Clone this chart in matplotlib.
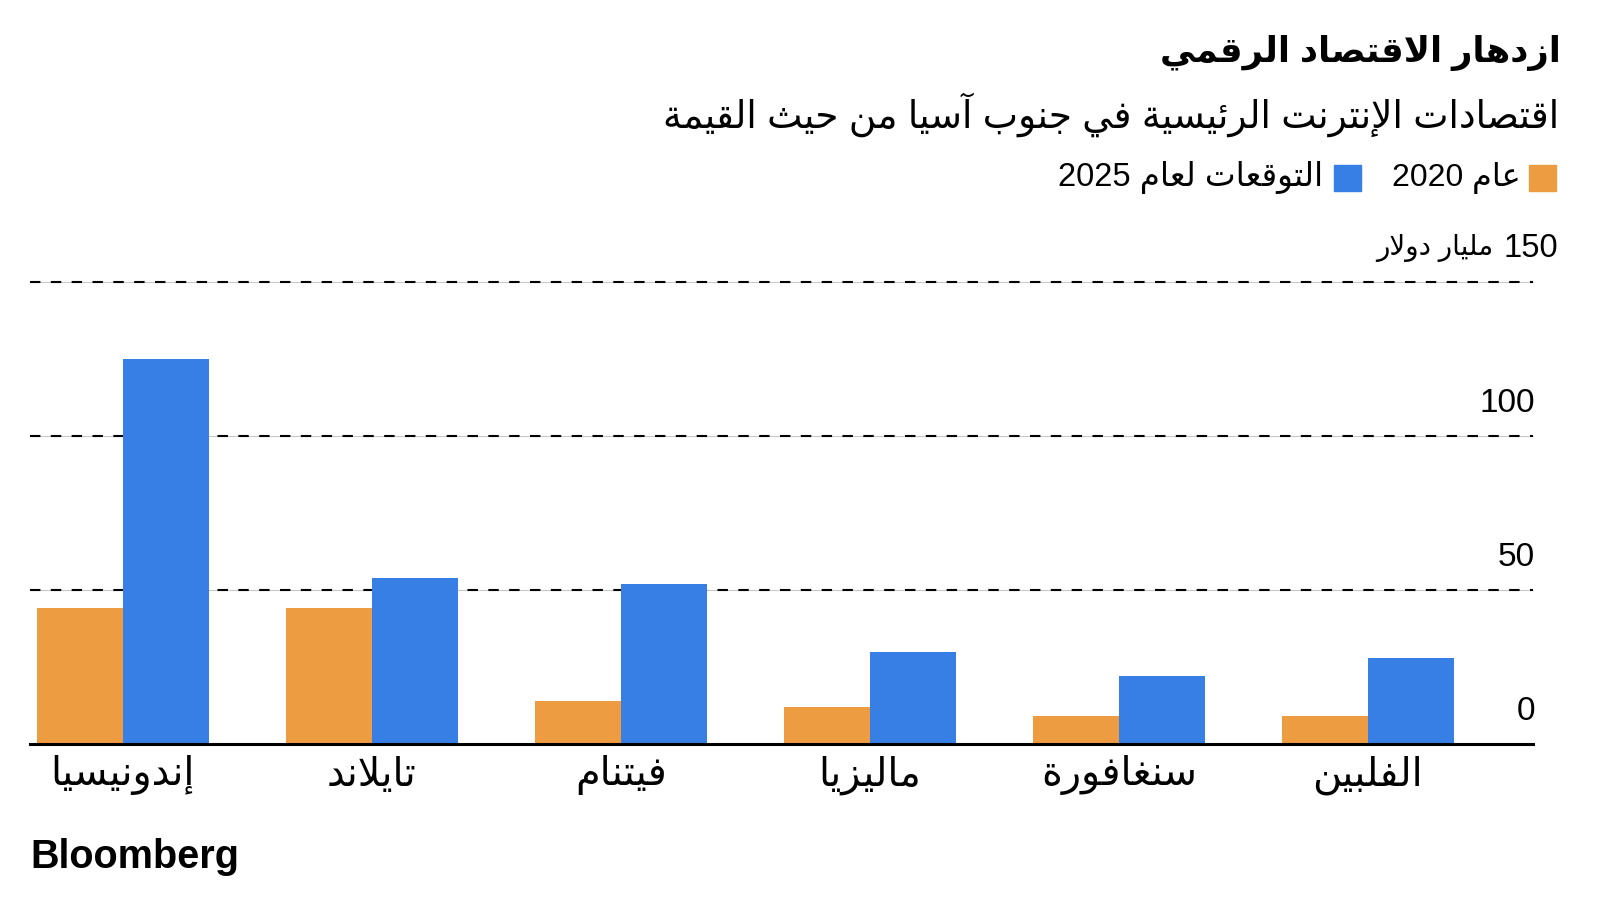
import re
import numpy as np
import matplotlib
matplotlib.use('Agg')
import matplotlib.pyplot as plt
import matplotlib.transforms as mtransforms
from matplotlib.patches import Rectangle

# data (billion dollars)
countries = ['إندونيسيا', 'تايلاند', 'فيتنام', 'ماليزيا', 'سنغافورة', 'الفلبين']
value_2020 = [44, 44, 14, 12, 9, 9]
value_2025 = [125, 54, 52, 30, 22, 28]
y_ticks = [0, 50, 100, 150]

title = 'ازدهار الاقتصاد الرقمي'
subtitle = 'اقتصادات الإنترنت الرئيسية في جنوب آسيا من حيث القيمة'
legend_2020 = 'عام 2020'
legend_2025 = 'التوقعات لعام 2025'
unit_label = 'مليار دولار'

orange = '#ED9C41'
blue = '#377FE4'

# --- minimal arabic shaping (matplotlib has no bidi / joining support) ---
RIGHT_JOIN = {'\u0622': 0xFE81, '\u0623': 0xFE83, '\u0624': 0xFE85, '\u0625': 0xFE87,
              '\u0627': 0xFE8D, '\u0629': 0xFE93, '\u062F': 0xFEA9, '\u0630': 0xFEAB,
              '\u0631': 0xFEAD, '\u0632': 0xFEAF, '\u0648': 0xFEED, '\u0649': 0xFEEF}
DUAL_JOIN = {'\u0626': 0xFE89, '\u0628': 0xFE8F, '\u062A': 0xFE95, '\u062B': 0xFE99,
             '\u062C': 0xFE9D, '\u062D': 0xFEA1, '\u062E': 0xFEA5, '\u0633': 0xFEB1,
             '\u0634': 0xFEB5, '\u0635': 0xFEB9, '\u0636': 0xFEBD, '\u0637': 0xFEC1,
             '\u0638': 0xFEC5, '\u0639': 0xFEC9, '\u063A': 0xFECD, '\u0641': 0xFED1,
             '\u0642': 0xFED5, '\u0643': 0xFED9, '\u0644': 0xFEDD, '\u0645': 0xFEE1,
             '\u0646': 0xFEE5, '\u0647': 0xFEE9, '\u064A': 0xFEF1}
LAM_ALEF = {'\u0622': 0xFEF5, '\u0623': 0xFEF7, '\u0625': 0xFEF9, '\u0627': 0xFEFB}


def shape(text):
    units = []
    i = 0
    while i < len(text):
        if text[i] == '\u0644' and i + 1 < len(text) and text[i + 1] in LAM_ALEF:
            units.append(('LA', text[i + 1]))
            i += 2
        else:
            units.append(text[i])
            i += 1
    out = []
    for k, u in enumerate(units):
        prev = units[k - 1] if k > 0 else None
        nxt = units[k + 1] if k + 1 < len(units) else None
        joins_prev = isinstance(prev, str) and prev in DUAL_JOIN
        if isinstance(u, tuple):
            out.append(chr(LAM_ALEF[u[1]] + (1 if joins_prev else 0)))
        elif u in DUAL_JOIN:
            joins_next = nxt is not None and (isinstance(nxt, tuple) or nxt in DUAL_JOIN
                                              or nxt in RIGHT_JOIN)
            if joins_prev and joins_next:
                off = 3
            elif joins_prev:
                off = 1
            elif joins_next:
                off = 2
            else:
                off = 0
            out.append(chr(DUAL_JOIN[u] + off))
        elif u in RIGHT_JOIN:
            out.append(chr(RIGHT_JOIN[u] + (1 if joins_prev else 0)))
        else:
            out.append(u)
    return ''.join(out)


def rtl(text):
    s = shape(text)[::-1]
    return re.sub(r'[0-9A-Za-z.,]+', lambda m: m.group(0)[::-1], s)


FONT = ['Liberation Sans', 'DejaVu Sans']
W, H = 1600, 900


def fx(x):
    return x / W


def fy(y):
    return 1 - y / H


fig = plt.figure(figsize=(16, 9), dpi=100)
fig.patch.set_facecolor('white')

# axes placed in pixels: left 30, right 1533, top (150) 282, bottom (0) 744
ax = fig.add_axes([fx(30), fy(744), (1533 - 30) / W, (744 - 282) / H])
for s in ax.spines.values():
    s.set_visible(False)

x = np.arange(len(countries))
w = 0.345
ax.bar(x - w / 2, value_2020, w, color=orange, linewidth=0, zorder=3)
ax.bar(x + w / 2, value_2025, w, color=blue, linewidth=0, zorder=3)

ax.set_xlim(-0.373, 5.663)
ax.set_ylim(0, 150)
ax.set_xticks([])
ax.set_yticks([])

for v in y_ticks[1:]:
    ax.axhline(v, color='#c8c8c8', lw=0.8, zorder=1, clip_on=False)
    ax.axhline(v, color='black', lw=1.5, dashes=(5, 5), zorder=2, clip_on=False)
ax.axhline(0, color='black', lw=2.2, zorder=4, clip_on=False)

trans = mtransforms.blended_transform_factory(ax.transAxes, ax.transData)
for v in y_ticks[:-1]:
    ax.text(1.0013, v + 10.5, str(v), ha='right', va='center', fontsize=24,
            family=FONT, transform=trans)
# top tick carries the unit, a little further right
ax.text(1.0166, y_ticks[-1] + 11, str(y_ticks[-1]), ha='right', va='center',
        fontsize=23.5, family=FONT, transform=trans)
ax.text(0.974, y_ticks[-1] + 11, rtl(unit_label), ha='right', va='center',
        fontsize=20, family=FONT, transform=trans)

for xi, name in zip(x, countries):
    ax.text(xi, -0.068, rtl(name), ha='center', va='center', fontsize=28.5,
            family=FONT, transform=ax.get_xaxis_transform())

# title block
fig.text(fx(1561), fy(53), rtl(title), ha='right', va='center', fontsize=25.5,
         fontweight='bold', family=FONT)
fig.text(fx(1559), fy(115), rtl(subtitle), ha='right', va='center', fontsize=27,
         family=FONT)

# legend (right to left)
fig.patches.append(Rectangle((fx(1529), fy(191)), 27 / W, 26 / H, color=orange,
                             transform=fig.transFigure, figure=fig))
fig.text(fx(1521), fy(178), rtl(legend_2020), ha='right', va='center', fontsize=23,
         family=FONT)
fig.patches.append(Rectangle((fx(1334), fy(191)), 27 / W, 26 / H, color=blue,
                             transform=fig.transFigure, figure=fig))
fig.text(fx(1323), fy(178), rtl(legend_2025), ha='right', va='center', fontsize=23.5,
         family=FONT)

fig.text(fx(30), fy(857), 'Bloomberg', ha='left', va='center', fontsize=28.5,
         fontweight='bold', family='Liberation Sans')

fig.savefig('out.png', dpi=100, facecolor='white')
plt.close()
